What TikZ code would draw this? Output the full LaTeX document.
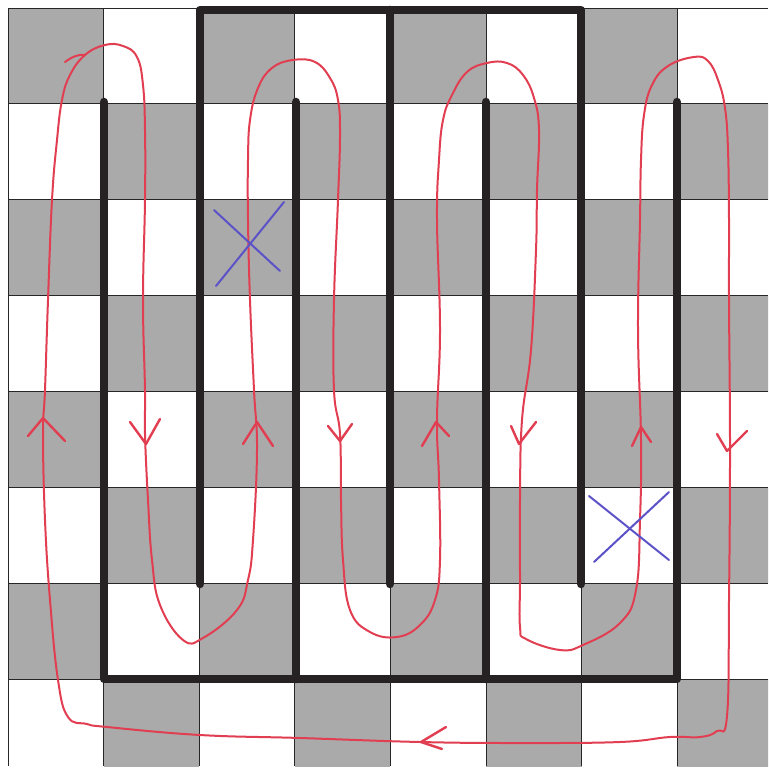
\documentclass[tikz,border=0pt]{standalone}
\definecolor{cellgray}{RGB}{170,170,170}
\definecolor{wallc}{RGB}{38,34,36}
\definecolor{redpen}{RGB}{226,62,82}
\definecolor{bluepen}{RGB}{92,82,200}
\tikzset{
  wall/.style={line width=8.5pt, draw=wallc, line cap=round, line join=round},
  gridline/.style={line width=0.8pt, draw=black!85},
  redline/.style={line width=2pt, draw=redpen, line cap=round, line join=round},
  chev/.style={line width=2.4pt, draw=redpen, line cap=round, line join=round},
  bluex/.style={line width=2pt, draw=bluepen, line cap=round},
}
\begin{document}
\begin{tikzpicture}[x=1pt,y=-1pt]
\useasboundingbox (0,0) rectangle (768,775);
\fill[white] (0,0) rectangle (768,775);
% board
\begin{scope}
\clip (8,8) rectangle (768,766);
\foreach \r in {0,...,7}{
  \foreach \c in {0,...,7}{
    \pgfmathtruncatemacro\s{\r+\c}
    \ifodd\s\else
      \fill[cellgray] ({8+95.6*\c},{8+95.9*\r}) rectangle ({8+95.6*(\c+1)},{8+95.9*(\r+1)});
    \fi
  }
}
\foreach \k in {0,...,8}{
  \draw[gridline] ({8+95.6*\k},8) -- ({8+95.6*\k},766);
  \draw[gridline] (8,{8+95.9*\k}) -- (768,{8+95.9*\k});
}
\end{scope}
% walls
\coordinate (t1) at (200,584);
\coordinate (t2) at (200,10);
\coordinate (t3) at (581,10);
\coordinate (t4) at (581,584);
\coordinate (m1) at (390,10);
\coordinate (m2) at (390,584);
\coordinate (b1) at (104,102);
\coordinate (b2) at (104,679);
\coordinate (b3) at (677,679);
\coordinate (b4) at (677,102);
\coordinate (n1) at (296,102);
\coordinate (n2) at (296,679);
\coordinate (n3) at (486,102);
\coordinate (n4) at (486,679);
\draw[wall] (t1) -- (t2) -- (t3) -- (t4);
\draw[wall] (m1) -- (m2);
\draw[wall] (b1) -- (b2) -- (b3) -- (b4);
\draw[wall] (n1) -- (n2);
\draw[wall] (n3) -- (n4);
% red tour
\draw[redline] plot[smooth cycle, tension=0.7] coordinates {
(85,55) (105,45) (123,46) (137,57) (143,85) (145,130) (145,200) (143,300) (145,390) (145,434) (148,500) (152,560) (160,605) (183,640) (203,638) (237,610) (248,580) (253,540) (257,450) (254,390) (250,300) (248,220) (248,160) (250,120) (258,88) (272,68) (293,60) (315,62) (330,78) (338,100) (340,135) (338,200) (334,300) (334,390) (340,434) (341,500) (343,560) (350,610) (370,632) (397,637) (420,625) (435,600) (440,560) (439,480) (437,420) (440,330) (437,220) (439,160) (443,120) (452,95) (467,72) (487,63) (507,63) (523,75) (534,98) (539,130) (537,190) (536,250) (531,350) (522,420) (520,500) (520,580) (520,627) (526,639) (560,650) (583,645) (620,623) (636,590) (640,520) (641,440) (638,330) (640,220) (641,160) (644,115) (652,85) (668,66) (694,57) (708,61) (718,80) (725,108) (728,150) (729,220) (729,300) (730,450) (729,600) (727,716) (717,731) (700,737) (670,737) (620,742) (520,743) (420,742) (300,738) (200,735) (107,727) (87,724) (68,717) (58,680) (50,600) (45,520) (43,434) (45,390) (48,300) (52,200) (57,140) (62,100) (70,75)
};
\draw[redline] (65,62) .. controls (72,57) and (78,54) .. (85,55);
% chevrons
\draw[chev] (28,436) -- (43,418) -- (65,441);
\draw[chev] (130,422) -- (146,444) -- (160,419);
\draw[chev] (243,444) -- (257,422) -- (273,446);
\draw[chev] (328,426) -- (340,441) -- (352,424);
\draw[chev] (422,446) -- (436,422) -- (449,436);
\draw[chev] (511,426) -- (519,444) -- (536,422);
\draw[chev] (632,446) -- (641,427) -- (651,442);
\draw[chev] (717,434) -- (727,451) -- (747,431);
\draw[chev] (446,727) -- (421,742) -- (442,749);
% blue crosses
\draw[bluex] (214,210) -- (280,271);
\draw[bluex] (284,202) -- (216,286);
\draw[bluex] (589,496) -- (669,560);
\draw[bluex] (669,492) -- (594,562);
\end{tikzpicture}
\end{document}
